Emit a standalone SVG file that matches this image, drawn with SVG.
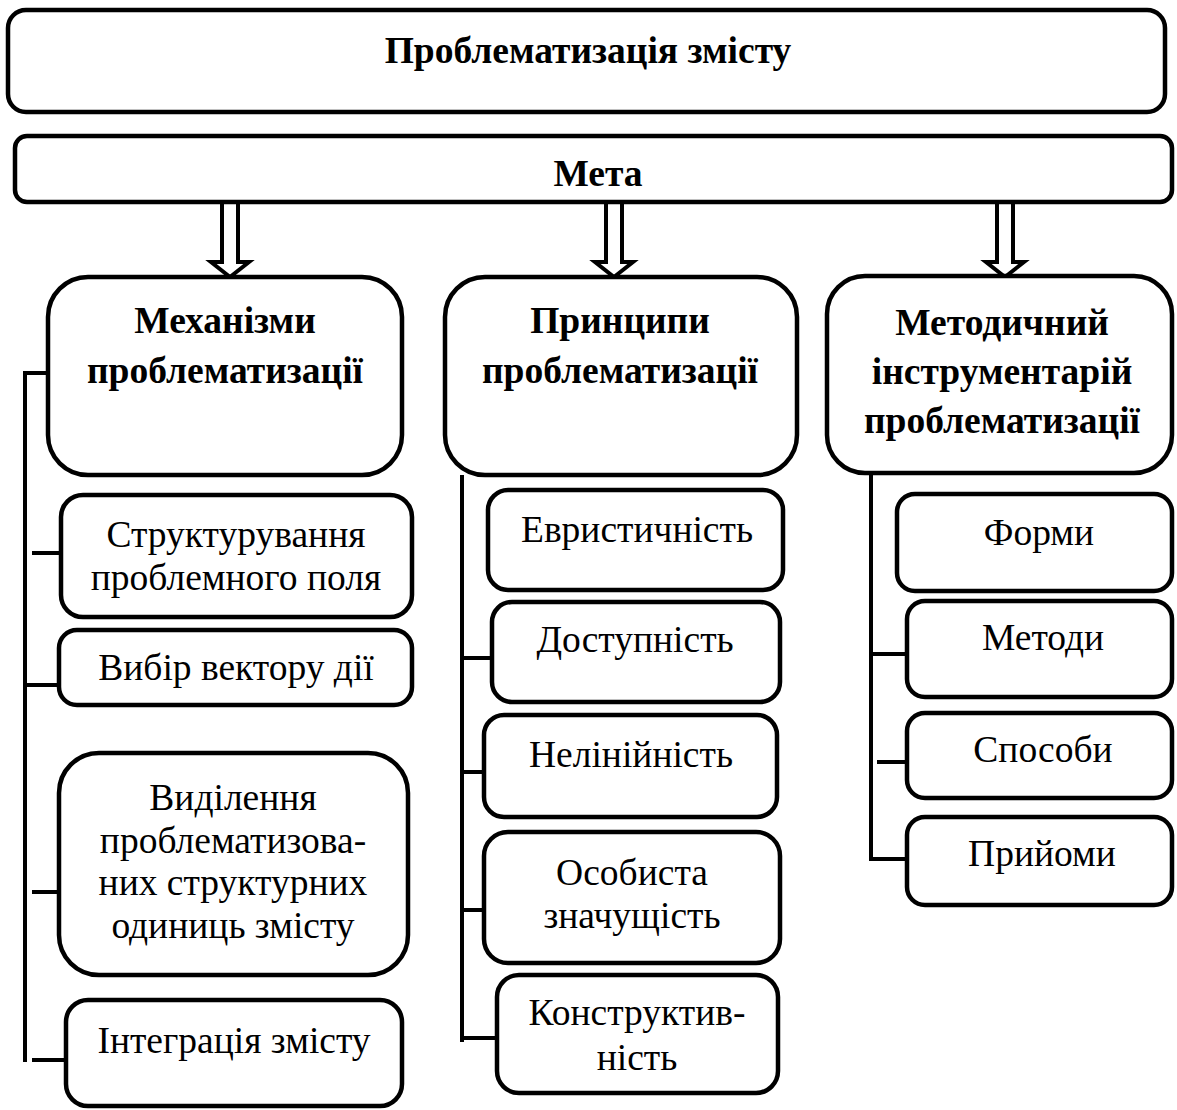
<svg xmlns="http://www.w3.org/2000/svg" width="1177" height="1110" viewBox="0 0 1177 1110">
<style>
.box{fill:#fff;stroke:#000;stroke-width:4.5}
.ln{fill:none;stroke:#000;stroke-width:4}
.arr{fill:#fff;stroke:#000;stroke-width:4;stroke-linejoin:miter}
text{font-family:"Liberation Serif","Times New Roman",serif;font-size:37.5px;text-anchor:middle;fill:#000}
.b{font-weight:bold}
</style>
<rect width="1177" height="1110" fill="#fff"/>
<g id="connectors">
<path class="arr" d="M222 203V262H211L230 277L249 262H238V203"/>
<path class="arr" d="M606 203V262H595L614 277L633 262H622V203"/>
<path class="arr" d="M997 203V262H986L1005 277L1024 262H1013V203"/>
<path class="ln" d="M48 373H25V1062"/>
<path class="ln" d="M32 553H62M27 685H60M32 892H62M32 1060H66"/>
<path class="ln" d="M462 475V1042"/>
<path class="ln" d="M462 658H490M462 772H490M462 910H485M462 1038H497"/>
<path class="ln" d="M871 473V859H907"/>
<path class="ln" d="M871 654H907M877 762H907"/>
</g>
<g id="n-title"><rect class="box" x="8" y="10" width="1157" height="102" rx="18"/><text class="b" x="588" y="63">Проблематизація змісту</text></g>
<g id="n-meta"><rect class="box" x="15" y="136" width="1157" height="66" rx="12"/><text class="b" x="598" y="186">Мета</text></g>
<g id="n-mech"><rect class="box" x="48" y="277" width="354" height="198" rx="40"/><text class="b" x="225" y="333">Механізми</text><text class="b" x="225" y="383">проблематизації</text></g>
<g id="n-princ"><rect class="box" x="445" y="277" width="352" height="198" rx="40"/><text class="b" x="620" y="333">Принципи</text><text class="b" x="620" y="383">проблематизації</text></g>
<g id="n-method"><rect class="box" x="827" y="276" width="345" height="197" rx="38"/><text class="b" x="1002" y="335">Методичний</text><text class="b" x="1002" y="384">інструментарій</text><text class="b" x="1002" y="433">проблематизації</text></g>
<g id="n-a1"><rect class="box" x="61" y="495" width="351" height="122" rx="22"/><text x="236" y="547">Структурування</text><text x="236" y="590">проблемного поля</text></g>
<g id="n-a2"><rect class="box" x="59" y="630" width="353" height="75" rx="18"/><text x="236" y="680">Вибір вектору дії</text></g>
<g id="n-a3"><rect class="box" x="59" y="753" width="349" height="222" rx="40"/><text x="233" y="810">Виділення</text><text x="233" y="853">проблематизова-</text><text x="233" y="895">них структурних</text><text x="233" y="938">одиниць змісту</text></g>
<g id="n-a4"><rect class="box" x="66" y="1000" width="336" height="106" rx="22"/><text x="234" y="1053">Інтеграція змісту</text></g>
<g id="n-b1"><rect class="box" x="488" y="490" width="295" height="100" rx="20"/><text x="637" y="542">Евристичність</text></g>
<g id="n-b2"><rect class="box" x="492" y="602" width="288" height="100" rx="20"/><text x="635" y="652">Доступність</text></g>
<g id="n-b3"><rect class="box" x="484" y="715" width="293" height="102" rx="20"/><text x="631" y="767">Нелінійність</text></g>
<g id="n-b4"><rect class="box" x="484" y="832" width="296" height="131" rx="24"/><text x="632" y="885">Особиста</text><text x="632" y="928">значущість</text></g>
<g id="n-b5"><rect class="box" x="497" y="975" width="281" height="118" rx="22"/><text x="637" y="1025">Конструктив-</text><text x="637" y="1070">ність</text></g>
<g id="n-c1"><rect class="box" x="897" y="494" width="275" height="97" rx="18"/><text x="1039" y="545">Форми</text></g>
<g id="n-c2"><rect class="box" x="907" y="601" width="265" height="96" rx="18"/><text x="1043" y="650">Методи</text></g>
<g id="n-c3"><rect class="box" x="907" y="713" width="265" height="85" rx="18"/><text x="1043" y="762">Способи</text></g>
<g id="n-c4"><rect class="box" x="907" y="817" width="265" height="88" rx="18"/><text x="1042" y="866">Прийоми</text></g>
</svg>
